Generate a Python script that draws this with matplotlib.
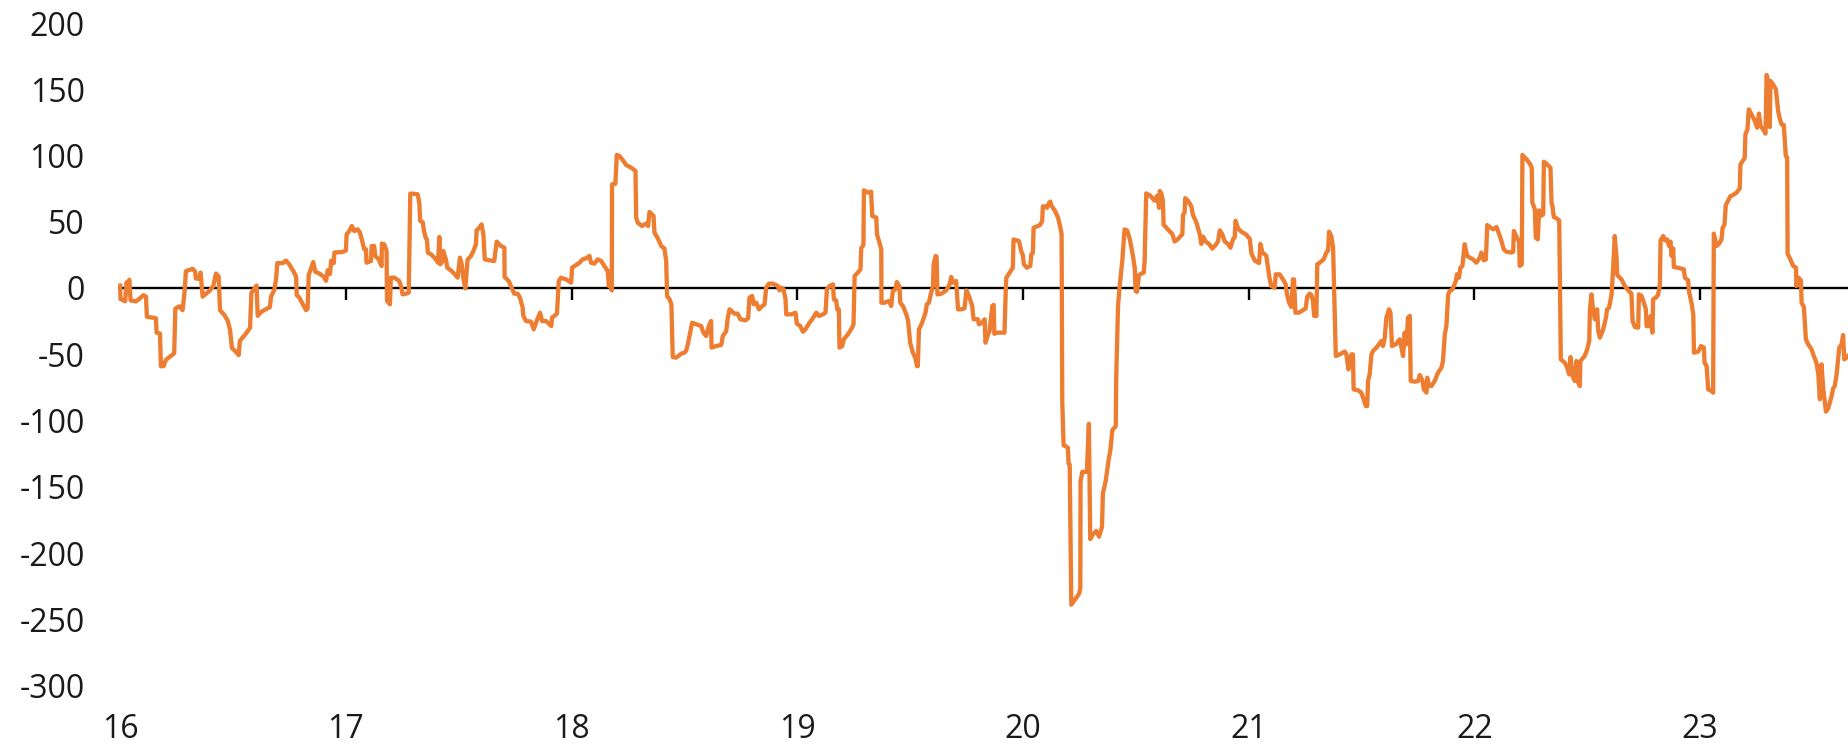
import matplotlib
matplotlib.use("Agg")
import matplotlib.pyplot as plt

years = [
    16.000, 16.001, 16.022, 16.028, 16.034, 16.040, 16.046, 16.069, 16.084, 16.102,
    16.114, 16.118, 16.158, 16.161, 16.176, 16.180, 16.192, 16.202, 16.239, 16.244,
    16.262, 16.276, 16.285, 16.291, 16.321, 16.332, 16.335, 16.350, 16.356, 16.365,
    16.395, 16.412, 16.424, 16.436, 16.442, 16.461, 16.476, 16.486, 16.495, 16.513,
    16.525, 16.530, 16.557, 16.575, 16.581, 16.591, 16.604, 16.609, 16.624, 16.646,
    16.663, 16.668, 16.683, 16.690, 16.696, 16.720, 16.734, 16.749, 16.767, 16.779,
    16.782, 16.793, 16.808, 16.823, 16.830, 16.835, 16.855, 16.864, 16.882, 16.900,
    16.912, 16.919, 16.929, 16.935, 16.946, 16.949, 16.985,
    17.000, 17.003, 17.015, 17.026, 17.037, 17.052, 17.062, 17.074, 17.081, 17.089,
    17.091, 17.111, 17.114, 17.125, 17.130, 17.145, 17.158, 17.159, 17.170, 17.180,
    17.182, 17.195, 17.199, 17.214, 17.236, 17.244, 17.251, 17.266, 17.278, 17.281,
    17.285, 17.295, 17.318, 17.325, 17.329, 17.340, 17.346, 17.354, 17.359, 17.363,
    17.377, 17.399, 17.408, 17.414, 17.418, 17.428, 17.431, 17.443, 17.449, 17.465,
    17.480, 17.495, 17.505, 17.513, 17.520, 17.529, 17.539, 17.554, 17.566, 17.576,
    17.579, 17.591, 17.601, 17.609, 17.615, 17.635, 17.657, 17.668, 17.687, 17.702,
    17.703, 17.721, 17.736, 17.746, 17.761, 17.771, 17.783, 17.786, 17.798, 17.820,
    17.832, 17.845, 17.860, 17.869, 17.886, 17.910, 17.913, 17.923, 17.935, 17.943,
    17.953, 17.975, 17.998,
    18.002, 18.020, 18.035, 18.049, 18.064, 18.079, 18.086, 18.101, 18.116, 18.131,
    18.145, 18.160, 18.165, 18.175, 18.178, 18.179, 18.194, 18.200, 18.212, 18.230,
    18.242, 18.264, 18.283, 18.286, 18.293, 18.312, 18.330, 18.339, 18.345, 18.363,
    18.367, 18.382, 18.397, 18.411, 18.419, 18.423, 18.434, 18.442, 18.448, 18.463,
    18.485, 18.500, 18.507, 18.515, 18.525, 18.534, 18.552, 18.574, 18.584, 18.596,
    18.608, 18.618, 18.620, 18.640, 18.663, 18.670, 18.685, 18.692, 18.700, 18.722,
    18.736, 18.747, 18.770, 18.782, 18.788, 18.800, 18.807, 18.818, 18.830, 18.840,
    18.855, 18.862, 18.874, 18.892, 18.914, 18.921, 18.929, 18.939, 18.948, 18.951,
    18.973, 18.992, 18.998,
    19.013, 19.025, 19.036, 19.054, 19.066, 19.084, 19.096, 19.113, 19.125, 19.131,
    19.143, 19.158, 19.162, 19.172, 19.177, 19.184, 19.187, 19.199, 19.206, 19.224,
    19.243, 19.249, 19.254, 19.268, 19.280, 19.283, 19.293, 19.295, 19.313, 19.327,
    19.332, 19.350, 19.353, 19.364, 19.372, 19.373, 19.386, 19.406, 19.416, 19.423,
    19.435, 19.441, 19.453, 19.456, 19.468, 19.483, 19.491, 19.500, 19.512, 19.524,
    19.530, 19.534, 19.539, 19.553, 19.568, 19.574, 19.583, 19.593, 19.601, 19.604,
    19.613, 19.617, 19.621, 19.638, 19.660, 19.675, 19.682, 19.689, 19.704, 19.712,
    19.726, 19.741, 19.749, 19.763, 19.775, 19.781, 19.800, 19.805, 19.819, 19.830,
    19.834, 19.845, 19.852, 19.864, 19.870, 19.873, 19.889, 19.918, 19.923, 19.926,
    19.941, 19.955, 19.958, 19.970, 19.982, 19.992, 19.999,
    20.004, 20.017, 20.032, 20.037, 20.044, 20.047, 20.066, 20.077, 20.085, 20.088,
    20.100, 20.106, 20.115, 20.121, 20.125, 20.140, 20.155, 20.165, 20.171, 20.174,
    20.180, 20.192, 20.199, 20.202, 20.207, 20.214, 20.229, 20.248, 20.254, 20.255,
    20.263, 20.283, 20.292, 20.298, 20.310, 20.325, 20.337, 20.350, 20.354, 20.366,
    20.372, 20.381, 20.387, 20.396, 20.411, 20.413, 20.421, 20.428, 20.440, 20.450,
    20.461, 20.473, 20.487, 20.495, 20.499, 20.505, 20.514, 20.526, 20.535, 20.539,
    20.546, 20.564, 20.583, 20.594, 20.603, 20.606, 20.613, 20.620, 20.623, 20.642,
    20.662, 20.672, 20.687, 20.706, 20.709, 20.716, 20.719, 20.731, 20.746, 20.753,
    20.768, 20.783, 20.790, 20.798, 20.809, 20.824, 20.839, 20.854, 20.864, 20.872,
    20.883, 20.894, 20.908, 20.919, 20.931, 20.938, 20.942, 20.953, 20.968, 20.987,
    21.005, 21.012, 21.027, 21.046, 21.052, 21.061, 21.078, 21.092, 21.100, 21.115,
    21.120, 21.137, 21.152, 21.164, 21.170, 21.179, 21.189, 21.196, 21.201, 21.207,
    21.223, 21.238, 21.253, 21.259, 21.270, 21.278, 21.285, 21.290, 21.300, 21.304,
    21.315, 21.332, 21.344, 21.352, 21.356, 21.366, 21.374, 21.386, 21.403, 21.426,
    21.433, 21.442, 21.448, 21.455, 21.462, 21.465, 21.485, 21.499, 21.507, 21.519,
    21.525, 21.529, 21.536, 21.544, 21.551, 21.566, 21.588, 21.595, 21.603, 21.610,
    21.622, 21.628, 21.635, 21.652, 21.669, 21.677, 21.684, 21.691, 21.699, 21.706,
    21.714, 21.718, 21.736, 21.751, 21.758, 21.770, 21.776, 21.788, 21.791, 21.799,
    21.810, 21.824, 21.839, 21.854, 21.861, 21.869, 21.876, 21.884, 21.891, 21.903,
    21.909, 21.918, 21.923, 21.932, 21.938, 21.947, 21.957, 21.968, 21.980, 21.994,
    22.009, 22.024, 22.031, 22.042, 22.051, 22.057, 22.068, 22.083, 22.098, 22.110,
    22.120, 22.130, 22.142, 22.164, 22.172, 22.175, 22.189, 22.198, 22.201, 22.210,
    22.213, 22.231, 22.246, 22.254, 22.257, 22.268, 22.272, 22.281, 22.287, 22.293,
    22.305, 22.308, 22.319, 22.337, 22.342, 22.346, 22.352, 22.364, 22.376, 22.383,
    22.401, 22.411, 22.420, 22.426, 22.435, 22.445, 22.452, 22.460, 22.467, 22.470,
    22.489, 22.500, 22.509, 22.512, 22.519, 22.526, 22.534, 22.544, 22.549, 22.556,
    22.571, 22.583, 22.588, 22.597, 22.608, 22.615, 22.622, 22.630, 22.633, 22.652,
    22.667, 22.682, 22.696, 22.701, 22.711, 22.726, 22.729, 22.741, 22.751, 22.760,
    22.763, 22.778, 22.781, 22.789, 22.792, 22.804, 22.814, 22.822, 22.825, 22.837,
    22.844, 22.854, 22.863, 22.869, 22.874, 22.881, 22.884, 22.903, 22.928, 22.933,
    22.947, 22.952, 22.962, 22.970, 22.973, 22.992,
    23.004, 23.017, 23.020, 23.029, 23.036, 23.051, 23.058, 23.061, 23.073, 23.085,
    23.095, 23.100, 23.108, 23.114, 23.125, 23.135, 23.147, 23.162, 23.176, 23.179,
    23.191, 23.198, 23.201, 23.210, 23.216, 23.228, 23.243, 23.253, 23.261, 23.268,
    23.280, 23.290, 23.295, 23.302, 23.306, 23.309, 23.312, 23.324, 23.336, 23.346,
    23.354, 23.361, 23.371, 23.380, 23.386, 23.388, 23.398, 23.413, 23.425, 23.427,
    23.436, 23.447, 23.450, 23.460, 23.469, 23.479, 23.494, 23.504, 23.516, 23.524,
    23.531, 23.538, 23.546, 23.558, 23.568, 23.583, 23.590, 23.597, 23.605, 23.612,
    23.617, 23.627, 23.634, 23.639, 23.649, 23.659,
]

spread = [
    1.8, -8.3, -10, 4.3, 1.4, 6.2, -9.4, -10.1, -8.3, -5.4,
    -6.5, -21.7, -22.8, -33.7, -34.4, -59, -59, -54.3, -49.3, -15.6,
    -13.8, -16.7, -2.9, 12.7, 14.5, 12.3, 7.2, 6.9, 11.6, -6.5,
    -2.2, 1.4, 10.9, 8.7, -16.7, -20.3, -24.6, -31.2, -45.3, -48.2,
    -50.7, -39.9, -34.4, -30.1, -3.6, -1.1, 1.8, -21, -18.1, -15.9,
    -14.5, -6.5, -1.1, 6.2, 18.8, 18.8, 20.7, 17.8, 12.7, 8.7,
    -5.4, -7.2, -12, -16.7, -15.6, 9.8, 19.6, 12.3, 10.9, 8.7,
    5.4, 13.4, 10.5, 20.7, 18.8, 26.8, 27.2,
    28.4, 40.5, 43, 46.8, 43, 44.3, 41.8, 34.2, 29.2, 29.2,
    19.1, 20.4, 31.7, 31.7, 24.2, 21.6, 16.6, 33.5, 33, 27.9,
    -9.8, -12.3, 7.8, 7.8, 5.3, 1.5, -4.8, -4.3, -3.5, 25.4,
    71.2, 71.2, 70.7, 64.4, 50.6, 49.8, 43, 37.5, 36.7, 26.7,
    25.4, 21.6, 19.1, 38.5, 17.9, 20.4, 27.9, 21.6, 15.3, 13.3,
    10.8, 7.8, 22.9, 17.9, 7.8, -0.3, 21.4, 24.2, 28.4, 33,
    43.5, 45.5, 48, 40.5, 21.6, 20.9, 20.4, 35, 31.7, 30.4,
    8.3, 5.3, -0.5, -4.3, -4.3, -7.3, -14.8, -21.1, -24.9, -25.4,
    -31.2, -24.9, -18.6, -24.9, -24.9, -28.7, -22.4, -21.1, -19.4, 5.3,
    7.8, 6.5, 4,
    15.3, 17.4, 19.1, 21.6, 22.4, 24.2, 19.1, 18.4, 21.6, 20.4,
    16.6, 12.8, 1.5, 0.8, -1.8, 78.2, 78.7, 100.4, 99.6, 95.8,
    92.8, 90.8, 88.3, 53.1, 49.3, 46.8, 48.6, 46.8, 57.4, 54.3,
    41.8, 37.5, 31.7, 29.9, 20.4, -6, -8.6, -12.3, -52.1, -52.6,
    -49.6, -48.8, -47.5, -42.5, -33.7, -26.2, -27.4, -28.7, -33.7, -36.2,
    -28.7, -24.9, -45, -43.8, -43, -36.2, -32.5, -22.4, -16.1, -19.4,
    -19.4, -23.6, -24.4, -22.9, -7.3, -6, -12.3, -11.1, -16.1, -14.3,
    -12.3, 0.3, 3.3, 3.3, 1.5, -1.8, 0.3, -1, -8.6, -19.9,
    -19.9, -18.6, -26.9,
    -28.7, -33, -31.2, -26.2, -23.6, -18.6, -21.1, -19.9, -18.6, -1,
    1.5, 2.8, -8.6, -9.3, -16.1, -16.1, -45, -43.8, -38.7, -35,
    -29.9, -27.4, 9.1, 11.6, 14.1, 29.9, 32.5, 73.7, 72, 72.7,
    54.3, 53.1, 40.5, 34.2, 29.2, -11.1, -11.1, -9.8, -13.6, -2.3,
    -1, 4.5, 0.8, -11.1, -13.6, -19.9, -24.9, -41.3, -48.8, -53.1,
    -58.9, -58.9, -31.2, -26.2, -18.6, -12.3, -11.1, -3.5, 1.5, 17.9,
    24.2, 23.7, -4.8, -4.3, -1.8, 2.8, 8.3, 4, 5.3, -16.1,
    -16.1, -15.3, -1.8, -7.3, -13.6, -23.6, -23.6, -27.4, -26.2, -23.6,
    -41.3, -35, -32.5, -13.6, -12.8, -34.5, -33.7, -33.7, -4.8, 7.8,
    11.6, 15.3, 36.7, 36, 35.5, 27.9, 24.9,
    17.9, 15.3, 16.6, 25.4, 26.7, 45.5, 46.8, 47.8, 50.6, 61.6,
    61.6, 60.5, 64.1, 65.2, 62.3, 58.7, 53.3, 46, 40.6, -86.2,
    -118.8, -119.6, -120.7, -132.6, -133.3, -239, -235.5, -231, -226.8, -146,
    -138.8, -138.8, -102.5, -189.5, -186, -183.3, -187.7, -180.4, -155, -146,
    -138.8, -127.9, -122.5, -107.2, -104.3, -68.1, -13.8, 0.7, 20.7, 44.2,
    43.5, 37, 24.3, 15.2, -2.2, -2.9, 9.8, 10.9, 11.6, 20.7,
    71.4, 69.6, 65.9, 69.6, 60.5, 73.2, 71.4, 65.9, 47.8, 44.2,
    40.6, 35.1, 37, 40.6, 55.1, 57, 67.8, 65.9, 61.6, 55.1,
    49.6, 40.6, 33.3, 38.8, 35.1, 33.3, 29.7, 32.6, 35.1, 43.5,
    40.6, 35.1, 33.3, 30.4, 37, 38.1, 50.7, 44.9, 42.4, 40.6,
    37, 26.1, 20.7, 18.8, 33.3, 26.8, 24.3, 7.8, 1.5, 0.3,
    10.3, 10.3, 6.5, 2.8, -4.8, -11.1, -14.3, 6.5, 6.5, -18.6,
    -18.6, -16.9, -15.3, -6.8, -4.3, -5.3, -9.8, -21.1, -21.1, 17.9,
    19.1, 21.6, 26.7, 28.4, 42.5, 39.2, 30.4, -51.3, -50.1, -48,
    -50.1, -61.4, -55.1, -50.1, -50.1, -76.5, -77.2, -79, -82.8, -89.1,
    -89.1, -70.2, -65.2, -50.1, -47.5, -45, -40, -43.8, -37.5, -22.4,
    -16.1, -18.6, -43.8, -42.5, -38.7, -45, -51.3, -33.7, -42.5, -22.4,
    -21.1, -70.2, -70.7, -70.2, -65.7, -69.7, -76.5, -79, -67.7, -74,
    -74, -70.2, -63.9, -60.1, -55.1, -35, -28.7, -4.8, -2.3, -1,
    1.5, 5.3, 10.3, 7.8, 15.3, 16.6, 33, 24.2, 22.9, 21.6,
    19.1, 22.9, 26.7, 20.9, 21.6, 47.5, 46, 44.3, 46, 40.5,
    35.5, 29.2, 27.4, 26.7, 27.4, 43, 37.7, 35.2, 16.6, 17.9,
    100.4, 97.1, 93.8, 90.8, 64.4, 59.4, 38, 36.7, 58.6, 54.3,
    55.6, 95.3, 93.8, 90.8, 64.4, 61.9, 53.6, 52.6, 51.1, -53.8,
    -56.4, -60.1, -65.2, -52.1, -66.4, -70.2, -55.1, -71.4, -74, -55.1,
    -51.3, -46.3, -40, -16.1, -4.8, -16.1, -23.6, -16.1, -32.5, -37.5,
    -31.2, -22.4, -16.1, -14.8, -4.8, 15.3, 39.2, 22.9, 9.8, 6.5,
    1.5, -1.8, -4.3, -24.9, -29.4, -29.9, -4.8, -6, -11.1, -16.1,
    -28.7, -28.7, -21.1, -33.7, -8.6, -7.3, -5.3, 2.8, 36, 39.2,
    36, 36.7, 31.7, 35, 24.2, 29.9, 15.8, 15.3, 14.1, 7.8,
    5.8, -3.5, -11.1, -19.9, -48.8, -48,
    -43.8, -45, -56.4, -58.9, -76.5, -77.7, -79, 41, 31.7, 33.5,
    36.7, 45.5, 47.5, 62.6, 66.2, 69.4, 70.2, 72, 75.2, 93.3,
    96.4, 98.4, 116, 119.7, 134.8, 131, 126, 121, 131.6, 122.3,
    119.7, 116.5, 160.8, 156.2, 122.3, 121.5, 156.2, 153.7, 149.9, 133.6,
    127.3, 123.5, 123, 99.6, 98.4, 25.9, 22.4, 16.6, 15.3, 1.5,
    7.8, 5.8, -11.1, -14.3, -38.7, -42.5, -46.3, -51.3, -56.4, -65.2,
    -84, -57.6, -76.5, -93.3, -90.8, -81.5, -75.7, -74, -65.2, -53.8,
    -45, -42.5, -35.5, -53.8, -52.6, -50.6,
]

year_ticks = [16, 17, 18, 19, 20, 21, 22, 23]
year_labels = ["16", "17", "18", "19", "20", "21", "22", "23"]
y_ticks = [-300, -250, -200, -150, -100, -50, 0, 50, 100, 150, 200]

plt.rcParams["font.family"] = ["Open Sans", "DejaVu Sans"]

fig = plt.figure(figsize=(18.49, 7.47), dpi=100)
ax = fig.add_axes([118 / 1849, 1 - 685.5 / 747, 1 - 118 / 1849, (685.5 - 23) / 747])

# zero line with small year ticks hanging below it
ax.axhline(0, color="black", lw=1.7, zorder=2)
ax.vlines(year_ticks[1:], -9, 0, color="black", lw=1.7, zorder=2)
ax.plot(years, spread, color="#ED7D31", lw=3.1, zorder=3, solid_joinstyle="round")

ax.set_xlim(15.99, 23.66)
ax.set_ylim(-300, 200)
ax.set_xticks(year_ticks)
ax.set_xticklabels(year_labels)
ax.set_yticks(y_ticks)
ax.set_yticklabels([str(v) for v in y_ticks])
ax.tick_params(axis="x", length=0, pad=20, labelsize=23, colors="#1a1a1a")
ax.tick_params(axis="y", length=0, pad=24, labelsize=23, colors="#1a1a1a")
for s in ax.spines.values():
    s.set_visible(False)

fig.savefig("out.png", dpi=100)
